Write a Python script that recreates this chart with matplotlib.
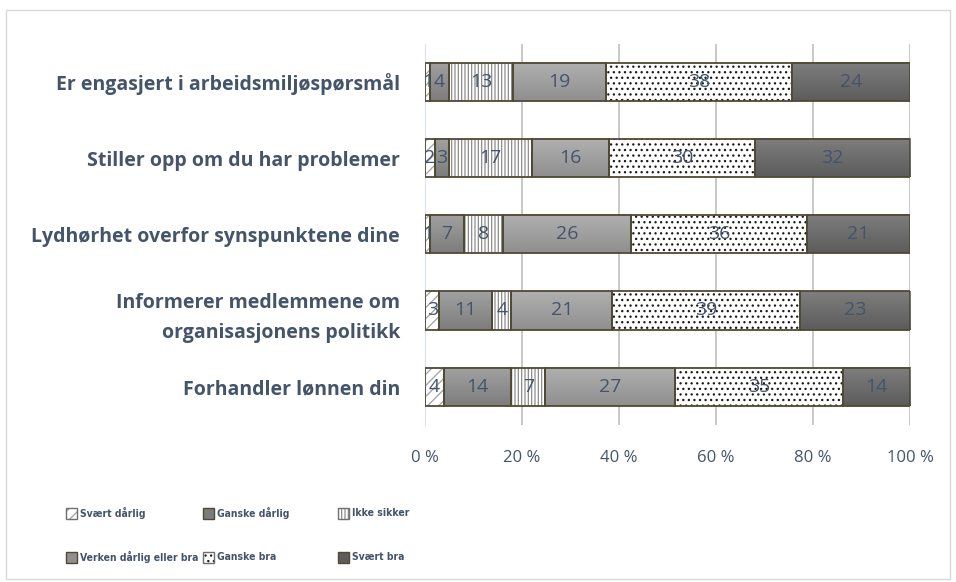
import numpy as np
import matplotlib
matplotlib.use("Agg")
import matplotlib.pyplot as plt
from matplotlib import font_manager
from matplotlib.font_manager import FontProperties
from matplotlib.colors import LinearSegmentedColormap
from matplotlib.patches import Rectangle

categories = [
    "Er engasjert i arbeidsmiljøspørsmål",
    "Stiller opp om du har problemer",
    "Lydhørhet overfor synspunktene dine",
    "Informerer medlemmene om\norganisasjonens politikk",
    "Forhandler lønnen din",
]
series = ["Svært dårlig", "Ganske dårlig", "Ikke sikker",
          "Verken dårlig eller bra", "Ganske bra", "Svært bra"]
svaert_darlig = [1, 2, 1, 3, 4]
ganske_darlig = [4, 3, 7, 11, 14]
ikke_sikker = [13, 17, 8, 4, 7]
verken = [19, 16, 26, 21, 27]
ganske_bra = [38, 30, 36, 39, 35]
svaert_bra = [24, 32, 21, 23, 14]

values = np.array([svaert_darlig, ganske_darlig, ikke_sikker,
                   verken, ganske_bra, svaert_bra], dtype=float)
pct = values / values.sum(axis=0) * 100.0

# (fill or gradient top/bottom, hatch, hatch colour)
styles = [
    (("white",), "///", "#a0a0a0"),
    (("#a2a2a2", "#7c7c7c"), None, None),
    (("white",), "|||||", "#8c8c8c"),
    (("#b0b0b0", "#8f8f8f"), None, None),
    (("white",), "...", "#1a1a1a"),
    (("#7e7e7e", "#5c5c5c"), None, None),
]
edge = "#4f4a33"
txt = "#44546a"

plt.rcParams["font.family"] = ["Open Sans", "DejaVu Sans"]
plt.rcParams["hatch.linewidth"] = 0.9


def narrow_bold_font():
    # a condensed bold face if one is installed (the Excel legend text is narrow)
    for f in font_manager.fontManager.ttflist:
        tag = (f.name + " " + f.fname).lower()
        bold = f.weight in ("bold", 700, "700") or "bold" in f.fname.lower()
        if bold and ("condensed" in tag or "narrow" in tag) and f.style == "normal":
            return FontProperties(fname=f.fname)
    return FontProperties(family=["Liberation Sans", "Open Sans", "DejaVu Sans"],
                          weight="bold")


fig = plt.figure(figsize=(9.56, 5.82), dpi=100)
fig.patch.set_facecolor("white")
fig.patches.append(Rectangle((0.006, 0.006), 0.988, 0.976, transform=fig.transFigure,
                             fill=False, edgecolor="#d9d9d9", linewidth=1))
ax = fig.add_axes([0.4445, 0.27, 0.5075, 0.655])

y = np.arange(len(categories))
left = np.zeros(len(categories))
h = 0.5
for i, (fill, hatch, hc) in enumerate(styles):
    if hatch:
        ax.barh(y, pct[i], left=left, height=h, color=fill[0], hatch=hatch,
                edgecolor=hc, linewidth=0, zorder=2)
    else:
        cmap = LinearSegmentedColormap.from_list("g%d" % i, [fill[0], fill[1]])
        grad = np.linspace(0, 1, 64).reshape(-1, 1)
        for j in range(len(categories)):
            ax.imshow(grad, cmap=cmap, aspect="auto", interpolation="bilinear",
                      extent=[left[j], left[j] + pct[i, j], y[j] + h / 2, y[j] - h / 2],
                      zorder=2)
    ax.barh(y, pct[i], left=left, height=h, fill=False,
            edgecolor=edge, linewidth=1.3, zorder=3)
    for j in range(len(categories)):
        ax.text(left[j] + pct[i, j] / 2, y[j], "%d" % values[i, j],
                ha="center", va="center", color=txt, fontsize=14, zorder=4)
    left += pct[i]

ax.set_xlim(0, 100)
ax.set_ylim(len(categories) - 0.5, -0.5)
ax.set_yticks(y)
ax.set_yticklabels(categories, fontsize=14, fontweight="bold", color=txt,
                   linespacing=1.7)
ax.tick_params(axis="y", length=0, pad=18)
ax.set_xticks(np.arange(0, 101, 20))
ax.set_xticklabels(["%d %%" % v for v in range(0, 101, 20)], fontsize=12, color=txt)
ax.tick_params(axis="x", length=0, pad=18)
ax.grid(axis="x", color="#bfbfbf", linewidth=1.2, zorder=0)
ax.set_axisbelow(True)
for s in ["top", "right", "bottom"]:
    ax.spines[s].set_visible(False)
ax.spines["left"].set_color("#d9e1f2")

# legend, laid out like the Excel one (equal column widths)
W, H = 956.0, 582.0
col_x = [66, 203, 338]
row_y = [513, 557]
box = 11
leg_fp = narrow_bold_font()
leg_fp.set_size(10)
leg_texts = []
for k, ((fill, hatch, hc), name) in enumerate(zip(styles, series)):
    cx = col_x[k % 3]
    cy = row_y[k // 3]
    fc = fill[0] if len(fill) == 1 else fill[1]
    x0, y0 = cx / W, (H - cy - box / 2) / H
    fig.patches.append(Rectangle((x0, y0), box / W, box / H,
                                 transform=fig.transFigure, facecolor=fc,
                                 hatch=hatch, edgecolor=hc if hatch else edge,
                                 linewidth=0 if hatch else 1.0))
    if hatch:
        fig.patches.append(Rectangle((x0, y0), box / W, box / H,
                                     transform=fig.transFigure, fill=False,
                                     edgecolor="#6f6f6f", linewidth=1.0))
    leg_texts.append(fig.text((cx + box + 3) / W, (H - cy) / H, name, ha="left",
                              va="center", color=txt, fontproperties=leg_fp.copy()))

# size the legend text so the longest label fits its column (about 118 px)
fig.canvas.draw()
widest = max(t.get_window_extent().width for t in leg_texts)
size = min(12.5, 10 * 118.0 / widest)
for t in leg_texts:
    t.set_fontsize(size)

fig.savefig("out.png", dpi=100, facecolor="white")
